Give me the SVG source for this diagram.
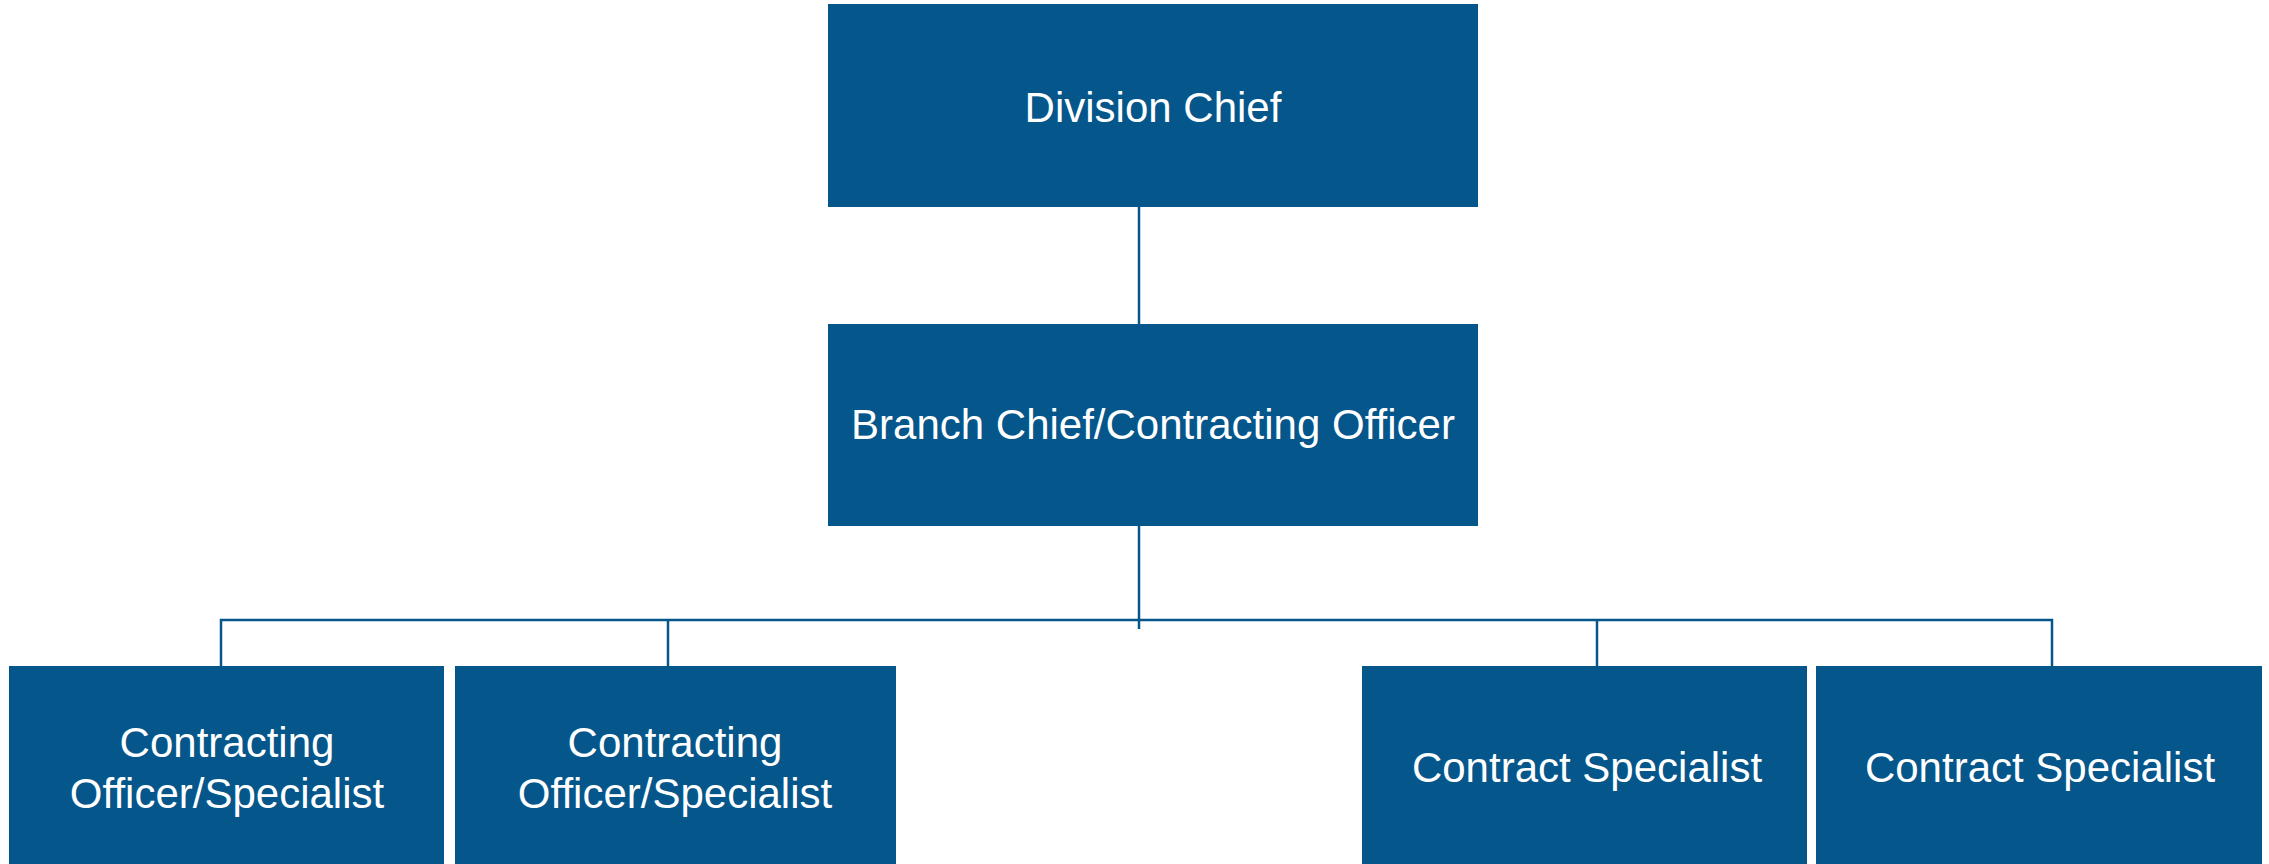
<svg xmlns="http://www.w3.org/2000/svg" width="2269" height="864" viewBox="0 0 2269 864">
<style>
.box{fill:#04568B;}
.lbl{fill:#ffffff;font-family:"Liberation Sans",Arial,sans-serif;font-size:42px;text-anchor:middle;}
.conn{stroke:#04568B;stroke-width:2.5;fill:none;}
</style>
<rect width="2269" height="864" fill="#ffffff"/>
<g id="connectors">
<line class="conn" x1="1139" y1="207" x2="1139" y2="324"/>
<line class="conn" x1="1139" y1="526" x2="1139" y2="629"/>
<polyline class="conn" points="221,666 221,620 2052,620 2052,666"/>
<line class="conn" x1="668" y1="620" x2="668" y2="666"/>
<line class="conn" x1="1597" y1="620" x2="1597" y2="666"/>
</g>
<g id="division-chief">
<rect class="box" x="828" y="4" width="650" height="203"/>
<text class="lbl" x="1153" y="122">Division Chief</text>
</g>
<g id="branch-chief">
<rect class="box" x="828" y="324" width="650" height="202"/>
<text class="lbl" x="1153" y="439">Branch Chief/Contracting Officer</text>
</g>
<g id="co-specialist-1">
<rect class="box" x="9" y="666" width="435" height="210"/>
<text class="lbl" x="227" y="757">Contracting</text>
<text class="lbl" x="227" y="808">Officer/Specialist</text>
</g>
<g id="co-specialist-2">
<rect class="box" x="455" y="666" width="441" height="210"/>
<text class="lbl" x="675" y="757">Contracting</text>
<text class="lbl" x="675" y="808">Officer/Specialist</text>
</g>
<g id="contract-specialist-1">
<rect class="box" x="1362" y="666" width="445" height="210"/>
<text class="lbl" x="1587" y="782">Contract Specialist</text>
</g>
<g id="contract-specialist-2">
<rect class="box" x="1816" y="666" width="446" height="210"/>
<text class="lbl" x="2040" y="782">Contract Specialist</text>
</g>
</svg>
